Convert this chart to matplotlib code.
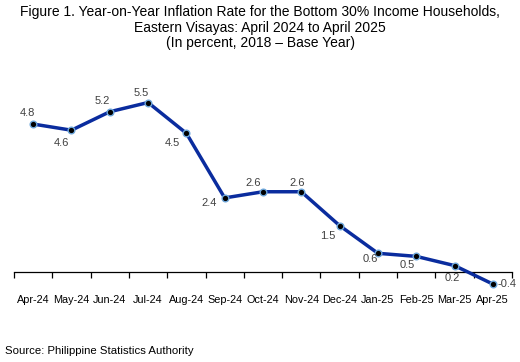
import matplotlib
matplotlib.use("Agg")
import matplotlib.pyplot as plt  # noqa: E402

plt.rcParams["font.family"] = ["Liberation Sans", "DejaVu Sans"]

months = ["Apr-24", "May-24", "Jun-24", "Jul-24", "Aug-24", "Sep-24", "Oct-24",
          "Nov-24", "Dec-24", "Jan-25", "Feb-25", "Mar-25", "Apr-25"]
rates = [4.8, 4.6, 5.2, 5.5, 4.5, 2.4, 2.6, 2.6, 1.5, 0.6, 0.5, 0.2, -0.4]

# label offsets in pixels (dx, dy) relative to each point
offsets = [(-6, 11), (-10, -13), (-7, 11), (-7, 10), (-14, -10), (-16, -5),
           (-10, 9), (-4, 9), (-12, -10), (-8, -6), (-9, -9), (-2, -12), (14, 0)]

fig = plt.figure(figsize=(5.2, 3.62), dpi=100)
ax = fig.add_axes([0.0269, 0.1983, 0.9577, 0.578])
x = list(range(len(months)))

ax.plot(x, rates, color="#0a2c9e", linewidth=2.5, zorder=3,
        marker="o", markersize=4.8, markerfacecolor="black",
        markeredgecolor="#6fa8dc", markeredgewidth=1.0)

for xi, v, (dx, dy) in zip(x, rates, offsets):
    ax.annotate(f"{v:.1f}", xy=(xi, v), xytext=(dx, dy), textcoords="offset pixels",
                ha="center", va="center", fontsize=8, color="#404040")

ax.set_xlim(-0.5, len(months) - 0.5)
ax.set_ylim(-0.6, 6.2)
for s in ["top", "right", "left"]:
    ax.spines[s].set_visible(False)
ax.spines["bottom"].set_position(("data", 0))
ax.spines["bottom"].set_linewidth(0.9)
ax.set_yticks([])
ax.set_xticks(x)
ax.set_xticklabels(months, fontsize=7.8)
ax.set_xticks([i - 0.5 for i in range(len(months) + 1)], minor=True)
ax.tick_params(axis="x", which="major", length=0, pad=17)
ax.tick_params(axis="x", which="minor", length=4, width=0.9, direction="out")

fig.text(0.5, 0.985, "Figure 1. Year-on-Year Inflation Rate for the Bottom 30% Income Households,\n"
         "Eastern Visayas: April 2024 to April 2025\n(In percent, 2018 \u2013 Base Year)",
         ha="center", va="top", fontsize=10, linespacing=1.12)
fig.text(0.01, 0.03, "Source: Philippine Statistics Authority", ha="left", va="center",
         fontsize=8.2)

fig.savefig("out.png", dpi=100)
